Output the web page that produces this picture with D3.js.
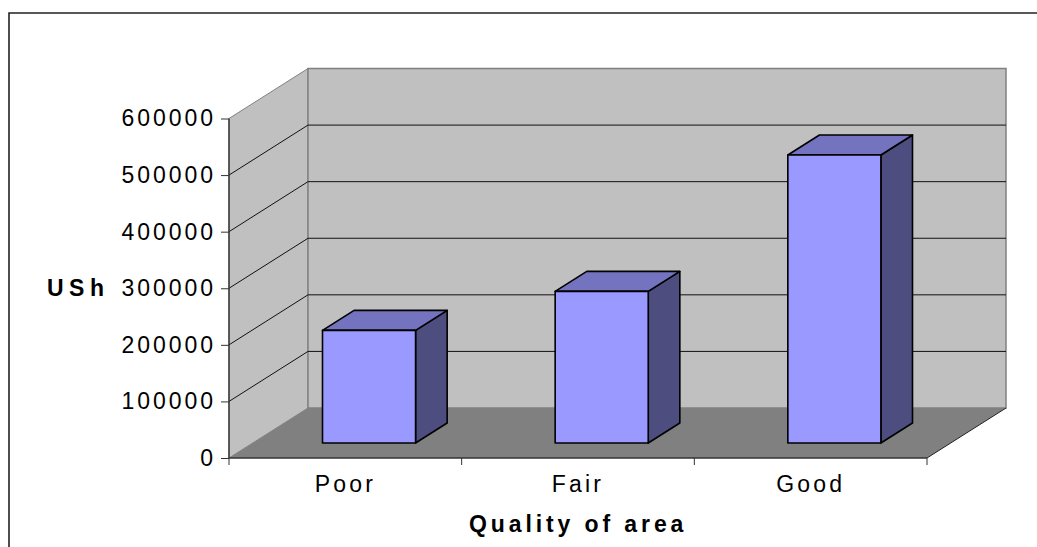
<!DOCTYPE html>
<html>
<head>
<meta charset="utf-8">
<script src="https://cdn.jsdelivr.net/npm/d3@7"></script>
<style>
html,body{margin:0;padding:0;background:#fff;}
svg{display:block;}
text{font-family:"Liberation Sans",Arial,sans-serif;fill:#000;}
</style>
</head>
<body>
<svg id="chart" width="1037" height="547"></svg>
<script>
const categories = ["Poor", "Fair", "Good"];
const values = [199000, 268000, 509000];
const yTicks = [0, 100000, 200000, 300000, 400000, 500000, 600000];
const yAxisTitle = "USh";
const xAxisTitle = "Quality of area";

const svg = d3.select("#chart");
const x = d3.scaleBand().domain(categories).range([229, 927]);
const y = d3.scaleLinear().domain([0, 600000]).range([458, 118.5]);

// Oblique projection: depth runs from the front plane (0) to the back wall (1).
const depthX = d3.scaleLinear().domain([0, 1]).range([0, 79]);
const depthY = d3.scaleLinear().domain([0, 1]).range([0, -50]);
const pt = (px, value, d) => [px + depthX(d), y(value) + depthY(d)];
const poly = pts => pts.map(p => p.join(",")).join(" ");

const [x0, x1] = x.range();
const yMax = y.domain()[1];

// Outer chart frame: left and top edges
svg.append("path")
  .attr("d", "M9,547V13H1037")
  .attr("fill", "none").attr("stroke", "#222").attr("stroke-width", 1.6);

// Walls and floor
svg.append("polygon")
  .attr("points", poly([pt(x0,0,0), pt(x0,yMax,0), pt(x0,yMax,1), pt(x0,0,1)]))
  .attr("fill", "#c0c0c0").attr("stroke", "#808080");
svg.append("polygon")
  .attr("points", poly([pt(x0,0,1), pt(x0,yMax,1), pt(x1,yMax,1), pt(x1,0,1)]))
  .attr("fill", "#c0c0c0").attr("stroke", "#808080").attr("stroke-width", 1.5);
svg.append("polygon")
  .attr("points", poly([pt(x0,0,0), pt(x1,0,0), pt(x1,0,1), pt(x0,0,1)]))
  .attr("fill", "#808080");
svg.append("line")
  .attr("x1", pt(x1,0,0)[0]).attr("y1", pt(x1,0,0)[1])
  .attr("x2", pt(x1,0,1)[0]).attr("y2", pt(x1,0,1)[1])
  .attr("stroke", "#222");

// Gridlines on the side wall and back wall
yTicks.filter(t => t > 0 && t < yMax).forEach(t => {
  svg.append("polyline")
    .attr("points", poly([pt(x0,t,0), pt(x0,t,1), pt(x1,t,1)]))
    .attr("fill", "none").attr("stroke", "#111").attr("stroke-width", 1);
});

// Axes on the front plane
svg.append("g")
  .attr("transform", `translate(${x0},0)`)
  .call(d3.axisLeft(y).tickValues(yTicks).tickFormat(d3.format("d")).tickSize(8).tickPadding(5))
  .call(g => g.select(".domain").attr("stroke", "#333").attr("stroke-width", 1.4).attr("d", `M0,${y(yMax)}V${y(0)}`))
  .call(g => g.selectAll("line").attr("stroke", "#333"))
  .call(g => g.selectAll("text").attr("font-size", 23).attr("font-family", "Liberation Sans").attr("letter-spacing", 2.95).attr("fill", "#000"));

svg.append("line")
  .attr("x1", x0).attr("x2", x1).attr("y1", y(0)).attr("y2", y(0))
  .attr("stroke", "#333").attr("stroke-width", 1.4);
[x0, ...categories.map(c => x(c) + x.bandwidth())].forEach(px => {
  svg.append("line")
    .attr("x1", px).attr("x2", px).attr("y1", y(0)).attr("y2", y(0) + 7)
    .attr("stroke", "#333");
});
svg.selectAll("text.cat").data(categories).join("text")
  .attr("class", "cat")
  .attr("x", c => x(c) + x.bandwidth() / 2)
  .attr("y", 492)
  .attr("text-anchor", "middle")
  .attr("font-size", 23)
  .attr("letter-spacing", 3.2)
  .text(c => c);

// 3D bars
const barFront = 0.3, barBack = 0.7, barShare = 0.4;
categories.forEach((c, i) => {
  const v = values[i];
  const bw = x.bandwidth() * barShare;
  const l = x(c) + (x.bandwidth() - bw) / 2;
  const r = l + bw;
  const g = svg.append("g")
    .attr("stroke", "#000").attr("stroke-width", 1.6).attr("stroke-linejoin", "round");
  g.append("polygon")
    .attr("points", poly([pt(r,0,barFront), pt(r,v,barFront), pt(r,v,barBack), pt(r,0,barBack)]))
    .attr("fill", "#4d4d80");
  g.append("polygon")
    .attr("points", poly([pt(l,v,barFront), pt(r,v,barFront), pt(r,v,barBack), pt(l,v,barBack)]))
    .attr("fill", "#7373bf");
  g.append("polygon")
    .attr("points", poly([pt(l,0,barFront), pt(r,0,barFront), pt(r,v,barFront), pt(l,v,barFront)]))
    .attr("fill", "#9999ff");
});

// Axis titles
svg.append("text").attr("x", 47).attr("y", 296)
  .attr("font-size", 23).attr("font-weight", "bold")
  .attr("letter-spacing", 5.5).text(yAxisTitle);
svg.append("text").attr("x", 469).attr("y", 532)
  .attr("font-size", 23).attr("font-weight", "bold")
  .attr("letter-spacing", 3.9).text(xAxisTitle);
</script>
</body>
</html>
